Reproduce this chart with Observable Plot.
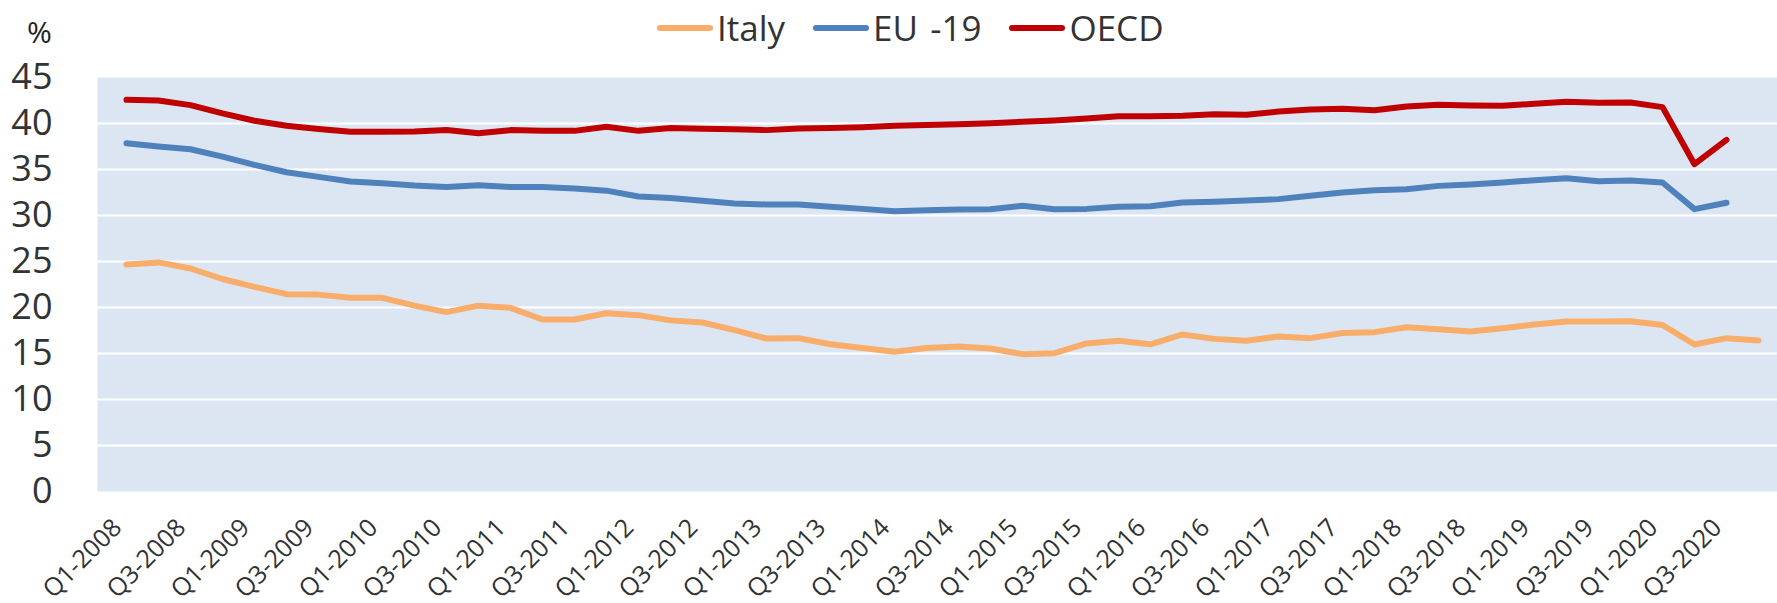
<!DOCTYPE html>
<html><head><meta charset="utf-8">
<script src="https://cdn.jsdelivr.net/npm/d3@7"></script>
<script src="https://cdn.jsdelivr.net/npm/@observablehq/plot@0.6"></script>
<style>
body{margin:0;background:#fff;font-family:"Open Sans",sans-serif;}
#wrap{position:relative;width:1777px;height:603px;overflow:hidden;}
#head{position:relative;height:40px;z-index:2;}
#pct{position:absolute;left:27px;top:17px;font-size:30px;line-height:1;color:#222;}
#legend{position:absolute;left:657px;top:0;height:55px;display:flex;align-items:center;font-size:35px;color:#333;white-space:pre;}
.item{display:flex;align-items:center;margin-right:28px}
.sw{width:56px;height:6px;border-radius:3px;margin-right:4px}
</style></head>
<body>
<div id="wrap">
<div id="head"><span id="pct">%</span><div id="legend"></div></div>
<div id="chart"></div>
</div>
<script>
const quarters = [
"Q1-2008","Q2-2008","Q3-2008","Q4-2008","Q1-2009","Q2-2009","Q3-2009","Q4-2009",
"Q1-2010","Q2-2010","Q3-2010","Q4-2010","Q1-2011","Q2-2011","Q3-2011","Q4-2011",
"Q1-2012","Q2-2012","Q3-2012","Q4-2012","Q1-2013","Q2-2013","Q3-2013","Q4-2013",
"Q1-2014","Q2-2014","Q3-2014","Q4-2014","Q1-2015","Q2-2015","Q3-2015","Q4-2015",
"Q1-2016","Q2-2016","Q3-2016","Q4-2016","Q1-2017","Q2-2017","Q3-2017","Q4-2017",
"Q1-2018","Q2-2018","Q3-2018","Q4-2018","Q1-2019","Q2-2019","Q3-2019","Q4-2019",
"Q1-2020","Q2-2020","Q3-2020","Q4-2020"];

const tickLabels = [
"Q1-2008","Q3-2008","Q1-2009","Q3-2009","Q1-2010","Q3-2010","Q1-2011","Q3-2011",
"Q1-2012","Q3-2012","Q1-2013","Q3-2013","Q1-2014","Q3-2014","Q1-2015","Q3-2015",
"Q1-2016","Q3-2016","Q1-2017","Q3-2017","Q1-2018","Q3-2018","Q1-2019","Q3-2019",
"Q1-2020","Q3-2020"];

const yTicks = [0,5,10,15,20,25,30,35,40,45];

const seriesNames = ["Italy","EU -19","OECD"];
const seriesColors = ["#F9AD6B","#4F81BD","#C00000"];

const italy = [24.67,24.9,24.24,23.1,22.25,21.45,21.4,21.05,21.05,20.2,19.5,20.2,19.96,18.7,18.7,19.38,
19.17,18.6,18.37,17.54,16.63,16.67,16.0,15.6,15.18,15.6,15.76,15.54,14.93,15.04,16.09,16.38,
16.0,17.07,16.59,16.38,16.85,16.67,17.22,17.32,17.86,17.64,17.39,17.75,18.15,18.48,18.48,18.51,
18.1,15.98,16.67,16.41];

const eu19 = [37.86,37.5,37.2,36.4,35.5,34.7,34.2,33.7,33.5,33.26,33.1,33.3,33.1,33.1,32.93,32.7,
32.07,31.9,31.6,31.3,31.2,31.2,30.94,30.72,30.47,30.56,30.65,30.69,31.05,30.69,30.72,30.94,
31.0,31.41,31.49,31.63,31.78,32.14,32.5,32.75,32.86,33.22,33.37,33.59,33.84,34.06,33.73,33.8,
33.59,30.69,31.38];

const oecd = [42.57,42.5,42.0,41.1,40.3,39.75,39.4,39.1,39.1,39.13,39.3,38.95,39.28,39.2,39.2,39.64,
39.2,39.5,39.42,39.38,39.28,39.45,39.5,39.6,39.75,39.85,39.93,40.04,40.18,40.33,40.54,40.8,
40.8,40.83,41.0,40.94,41.3,41.52,41.6,41.45,41.85,42.03,41.96,41.92,42.14,42.36,42.25,42.28,
41.78,35.58,38.22];

const seriesValues = [italy, eu19, oecd];
const rows = [];
seriesValues.forEach((vals, s) => vals.forEach((v, i) => rows.push({q: quarters[i], v, s: seriesNames[s]})));

// legend
const leg = document.getElementById("legend");
seriesNames.forEach((n, i) => {
  const it = document.createElement("div"); it.className = "item";
  const sw = document.createElement("span"); sw.className = "sw"; sw.style.background = seriesColors[i];
  const tx = document.createElement("span"); tx.textContent = n;
  if (n === "EU -19") tx.style.wordSpacing = "3px";
  it.appendChild(sw); it.appendChild(tx); leg.appendChild(it);
});

const chart = Plot.plot({
  width: 1777,
  height: 563,
  marginTop: 37,
  marginBottom: 112,
  marginLeft: 97,
  marginRight: 0,
  style: {fontFamily: "Open Sans, sans-serif", background: "white", color: "#333"},
  x: {type: "point", domain: quarters, range: [97, 1787], padding: 0.5},
  y: {domain: [0, 45]},
  color: {domain: seriesNames, range: seriesColors},
  marks: [
    Plot.frame({fill: "#DCE6F2", stroke: null}),
    Plot.gridY([5,10,15,20,25,30,35,40], {stroke: "white", strokeOpacity: 1, strokeWidth: 2}),
    Plot.axisY(yTicks, {tickSize: 0, tickPadding: 45, fontSize: 36, fill: "#333", label: null}),
    Plot.axisX(tickLabels, {tickSize: 0, tickPadding: 32, dx: -9, tickRotate: -45, fontSize: 25, fill: "#333", label: null}),
    Plot.line(rows, {x: "q", y: "v", z: "s", stroke: "s", strokeWidth: 6, strokeLinecap: "round", strokeLinejoin: "round"})
  ]
});
document.getElementById("chart").appendChild(chart);
</script>
</body></html>
